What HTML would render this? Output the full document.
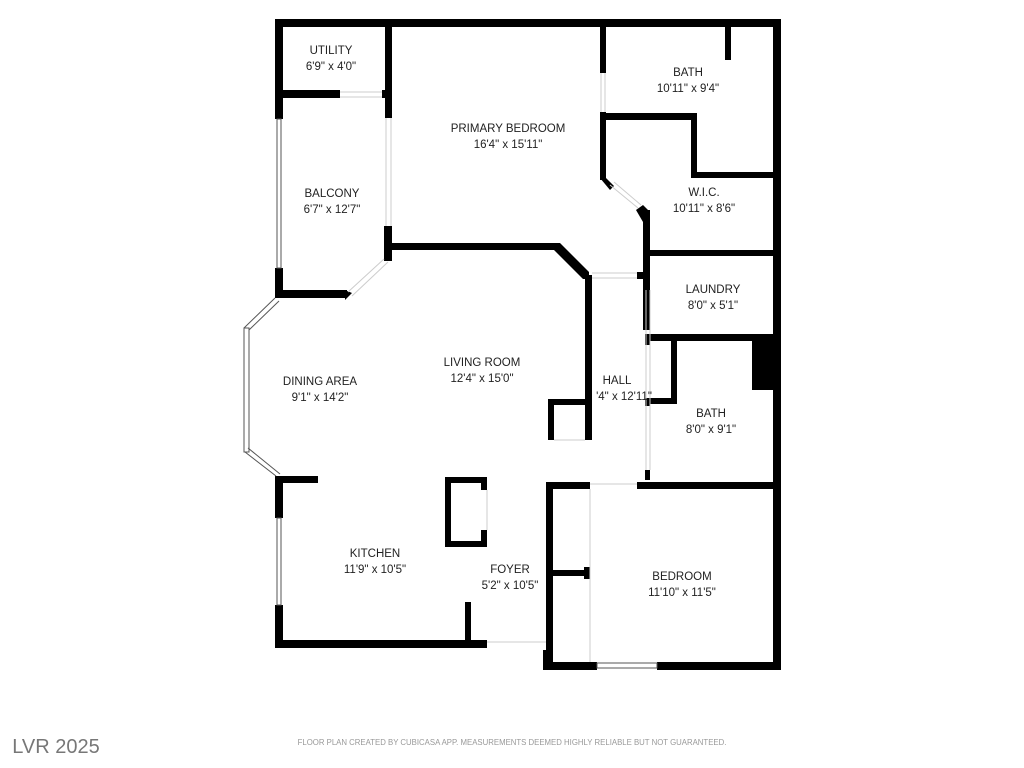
<!DOCTYPE html>
<html><head><meta charset="utf-8"><style>
html,body{margin:0;padding:0;background:#fff;width:1024px;height:768px;overflow:hidden}
svg{display:block}
text{font-family:"Liberation Sans",sans-serif;fill:#222;text-anchor:middle}
.l{font-size:11.5px}
</style></head><body>
<svg width="1024" height="768" viewBox="0 0 1024 768">
<g fill="#000">
<rect x="275" y="19" width="506" height="8"/>
<rect x="773" y="19" width="8" height="651"/>
<rect x="275" y="19" width="8" height="100"/>
<rect x="275" y="268" width="8" height="30"/>
<rect x="275" y="290" width="72" height="8"/>
<polygon points="345,290 352,293 345,300"/>
<rect x="275" y="90" width="65" height="8"/>
<rect x="382" y="90" width="10" height="8"/>
<rect x="385" y="19" width="7" height="99"/>
<rect x="384" y="226" width="8" height="35"/>
<rect x="390" y="243" width="167" height="7"/>
<polygon points="554,243 560,243 589,272 589,279 583,279 554,250"/>
<rect x="585" y="275" width="7" height="165"/>
<rect x="548" y="399" width="42" height="6"/>
<rect x="548" y="399" width="6" height="41"/>
<rect x="637" y="272" width="13" height="7"/>
<rect x="600" y="19" width="6" height="54"/>
<rect x="600" y="112" width="6" height="68"/>
<polygon points="600,178 606,178 614,186 610,190"/>
<polygon points="636,210 643,205 650,212 650,222 643,222"/>
<rect x="643" y="210" width="7" height="120"/>
<rect x="600" y="113" width="97" height="7"/>
<rect x="691" y="113" width="6" height="65"/>
<rect x="691" y="172" width="84" height="6"/>
<rect x="725" y="19" width="6" height="41"/>
<rect x="645" y="250" width="130" height="6"/>
<rect x="645" y="334" width="130" height="7"/>
<rect x="752" y="338" width="23" height="52"/>
<rect x="671" y="340" width="6" height="63"/>
<rect x="648" y="398" width="29" height="6"/>
<rect x="645" y="340" width="5" height="5"/>
<rect x="645" y="398" width="5" height="8"/>
<rect x="645" y="470" width="5" height="10"/>
<rect x="548" y="482" width="42" height="7"/>
<rect x="637" y="482" width="144" height="7"/>
<rect x="546" y="482" width="7" height="188"/>
<rect x="546" y="662" width="51" height="8"/>
<rect x="657" y="662" width="124" height="8"/>
<rect x="553" y="570" width="37" height="6"/>
<rect x="584" y="567" width="6" height="12"/>
<rect x="543" y="650" width="5" height="20"/>
<rect x="275" y="476" width="43" height="7"/>
<rect x="275" y="476" width="8" height="42"/>
<rect x="275" y="605" width="8" height="43"/>
<rect x="275" y="640" width="212" height="8"/>
<rect x="465" y="602" width="6" height="40"/>
<rect x="445" y="477" width="42" height="6"/>
<rect x="445" y="477" width="6" height="70"/>
<rect x="445" y="541" width="42" height="6"/>
<rect x="481" y="477" width="6" height="13"/>
<rect x="481" y="530" width="6" height="17"/>
</g>
<g fill="none" stroke="#555" stroke-width="1">
<rect x="277" y="119" width="4" height="149"/>
<rect x="277" y="518" width="4" height="87"/>
<rect x="244" y="328" width="5" height="124"/>
<line x1="244" y1="328" x2="275" y2="298"/><line x1="249" y1="330" x2="279" y2="301"/>
<line x1="245" y1="452" x2="276" y2="476"/><line x1="248" y1="448" x2="280" y2="474"/>
<rect x="597" y="663" width="60" height="5"/>
</g>
<g stroke="#ccc" stroke-width="1">
<line x1="340" y1="92" x2="382" y2="92"/><line x1="340" y1="97" x2="382" y2="97"/>
<line x1="386" y1="118" x2="386" y2="226"/><line x1="391" y1="118" x2="391" y2="226"/>
<line x1="348" y1="292" x2="384" y2="259"/><line x1="352" y1="296" x2="388" y2="262"/>
<line x1="601" y1="73" x2="601" y2="112"/><line x1="605" y1="73" x2="605" y2="112"/>
<line x1="610" y1="185" x2="638" y2="208"/><line x1="614" y1="182" x2="641" y2="205"/>
<line x1="592" y1="273" x2="637" y2="273"/><line x1="592" y1="278" x2="637" y2="278"/>
<line x1="646" y1="290" x2="646" y2="470"/><line x1="650" y1="290" x2="650" y2="470"/>
<line x1="590" y1="489" x2="590" y2="662"/>
<line x1="590" y1="484" x2="637" y2="484"/>
<line x1="487" y1="490" x2="487" y2="530"/>
<line x1="487" y1="642" x2="546" y2="642"/>
<line x1="554" y1="440" x2="585" y2="440"/>
</g>
<g class="l">
<text x="331" y="54">UTILITY</text><text x="331" y="70">6'9" x 4'0"</text>
<text x="508" y="132">PRIMARY BEDROOM</text><text x="508" y="148">16'4" x 15'11"</text>
<text x="688" y="76">BATH</text><text x="688" y="92">10'11" x 9'4"</text>
<text x="332" y="197">BALCONY</text><text x="332" y="213">6'7" x 12'7"</text>
<text x="704" y="196">W.I.C.</text><text x="704" y="212">10'11" x 8'6"</text>
<text x="713" y="293">LAUNDRY</text><text x="713" y="309">8'0" x 5'1"</text>
<text x="482" y="366">LIVING ROOM</text><text x="482" y="382">12'4" x 15'0"</text>
<text x="320" y="385">DINING AREA</text><text x="320" y="401">9'1" x 14'2"</text>
<text x="617" y="384">HALL</text><text x="624" y="400">'4" x 12'11"</text>
<text x="711" y="417">BATH</text><text x="711" y="433">8'0" x 9'1"</text>
<text x="375" y="557">KITCHEN</text><text x="375" y="573">11'9" x 10'5"</text>
<text x="510" y="573">FOYER</text><text x="510" y="589">5'2" x 10'5"</text>
<text x="682" y="580">BEDROOM</text><text x="682" y="596">11'10" x 11'5"</text>
</g>
<text x="512" y="745" style="font-size:7.8px;fill:#999">FLOOR PLAN CREATED BY CUBICASA APP. MEASUREMENTS DEEMED HIGHLY RELIABLE BUT NOT GUARANTEED.</text>
<text x="56" y="753" style="font-size:20px;fill:#777">LVR 2025</text>
</svg>
</body></html>
